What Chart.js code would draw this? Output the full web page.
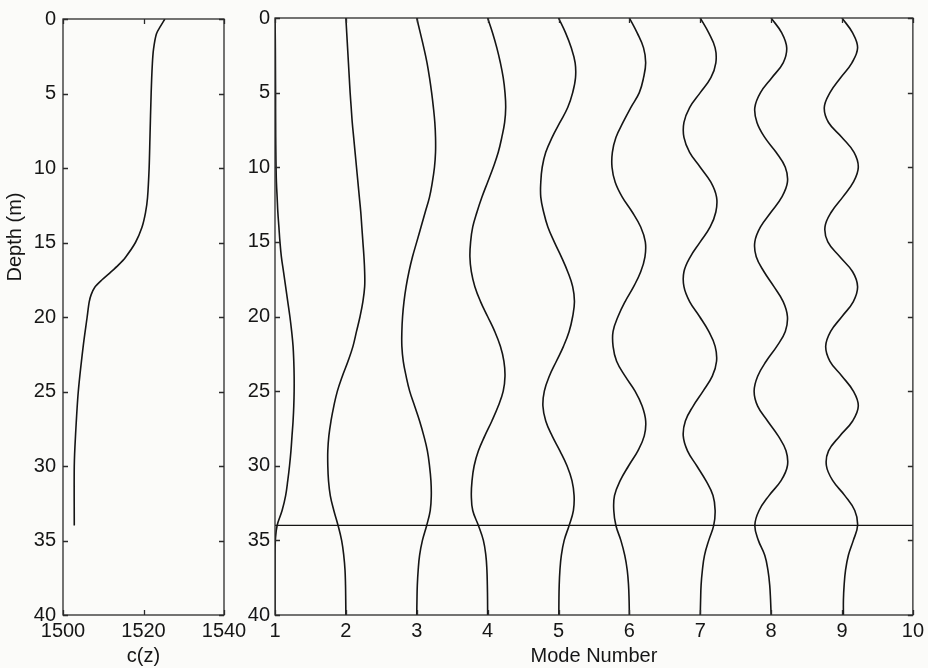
<!DOCTYPE html>
<html>
<head>
<meta charset="utf-8">
<script src="https://cdn.jsdelivr.net/npm/chart.js@4"></script>
<style>
  html, body { margin: 0; padding: 0; background: #fbfbf9; }
  #wrap { position: relative; width: 928px; height: 668px; }
  #left { position: absolute; left: 0; top: 0; }
  #right { position: absolute; left: 240px; top: 0; }
</style>
</head>
<body>
<div id="wrap">
  <canvas id="left" width="260" height="668"></canvas>
  <canvas id="right" width="688" height="668"></canvas>
</div>
<script>
// sound speed profile c(z)
const profileDepth = [0, 0.5, 1, 2, 3, 5, 8, 10, 12, 13, 14, 15, 16, 16.5, 17, 17.5, 18, 18.5, 19, 20, 22, 25, 28, 30, 34];
const profileSpeed = [1525.3, 1524.2, 1523.2, 1522.5, 1522.2, 1521.9, 1521.6, 1521.4, 1521.0, 1520.5, 1519.6, 1518.0, 1515.5, 1513.8, 1511.8, 1509.7, 1507.9, 1507.0, 1506.5, 1506.0, 1505.0, 1503.8, 1503.1, 1502.8, 1502.8];

// depth grid for the mode shapes (m)
const modeDepth = [0, 1, 2, 3, 4, 5, 6, 7, 8, 9, 10, 11, 12, 13, 14, 15, 16, 17, 18, 19, 20,
                   21, 22, 23, 24, 25, 26, 27, 28, 29, 30, 31, 32, 33, 34, 35, 36, 37, 38, 39, 40];

const modeNumbers = [1, 2, 3, 4, 5, 6, 7, 8, 9];

// mode amplitudes (offset from mode number)
const mode1 = [0, 0.003, 0.005, 0.006, 0.007, 0.008, 0.008, 0.009, 0.01, 0.012, 0.015, 0.02, 0.03, 0.04, 0.055, 0.07, 0.09, 0.12, 0.15, 0.18, 0.21,
               0.235, 0.255, 0.265, 0.27, 0.27, 0.265, 0.255, 0.24, 0.225, 0.205, 0.18, 0.15, 0.1, 0.03, 0.005, 0, 0, 0, 0, 0];
const mode2 = [0, 0.012, 0.024, 0.036, 0.048, 0.06, 0.075, 0.09, 0.11, 0.13, 0.15, 0.17, 0.19, 0.21, 0.225, 0.24, 0.255, 0.265, 0.265, 0.24, 0.2,
               0.15, 0.1, 0.03, -0.05, -0.12, -0.17, -0.21, -0.24, -0.255, -0.255, -0.245, -0.22, -0.17, -0.11, -0.06, -0.03, -0.012, -0.005, -0.002, 0];
const mode3 = [0, 0.05, 0.1, 0.145, 0.18, 0.21, 0.235, 0.255, 0.265, 0.265, 0.25, 0.22, 0.18, 0.12, 0.06, 0.0, -0.06, -0.11, -0.15, -0.18, -0.2,
               -0.21, -0.21, -0.19, -0.15, -0.1, -0.03, 0.04, 0.1, 0.15, 0.18, 0.2, 0.205, 0.19, 0.14, 0.08, 0.04, 0.02, 0.008, 0.003, 0];
const mode4 = [0, 0.07, 0.13, 0.18, 0.22, 0.245, 0.255, 0.24, 0.2, 0.15, 0.08, 0.0, -0.08, -0.15, -0.21, -0.24, -0.25, -0.23, -0.18, -0.1, 0.0,
               0.1, 0.18, 0.23, 0.245, 0.22, 0.15, 0.06, -0.04, -0.13, -0.19, -0.22, -0.23, -0.21, -0.13, -0.06, -0.025, -0.01, -0.004, -0.001, 0];
const mode5 = [0, 0.1, 0.18, 0.235, 0.24, 0.2, 0.13, 0.02, -0.09, -0.18, -0.23, -0.25, -0.25, -0.21, -0.15, -0.06, 0.04, 0.13, 0.2, 0.225, 0.2,
               0.15, 0.07, -0.03, -0.13, -0.2, -0.22, -0.18, -0.09, 0.02, 0.12, 0.19, 0.22, 0.21, 0.15, 0.08, 0.04, 0.02, 0.01, 0.006, 0.005];
const mode6 = [0, 0.11, 0.2, 0.23, 0.2, 0.14, 0.02, -0.09, -0.19, -0.24, -0.245, -0.2, -0.1, 0.04, 0.16, 0.225, 0.22, 0.16, 0.06, -0.06, -0.16,
               -0.23, -0.23, -0.18, -0.06, 0.08, 0.18, 0.23, 0.21, 0.12, -0.01, -0.13, -0.21, -0.22, -0.19, -0.12, -0.065, -0.03, -0.012, -0.004, 0];
const mode7 = [0, 0.12, 0.21, 0.22, 0.15, 0.0, -0.15, -0.23, -0.23, -0.15, 0.0, 0.15, 0.23, 0.22, 0.14, 0.0, -0.14, -0.23, -0.23, -0.15, -0.01,
               0.12, 0.21, 0.23, 0.17, 0.04, -0.1, -0.21, -0.24, -0.18, -0.05, 0.08, 0.18, 0.21, 0.19, 0.12, 0.06, 0.03, 0.012, 0.005, 0];
const mode8 = [0, 0.15, 0.22, 0.17, 0.01, -0.15, -0.23, -0.2, -0.09, 0.07, 0.2, 0.23, 0.15, 0.0, -0.15, -0.23, -0.21, -0.1, 0.04, 0.17, 0.23,
               0.2, 0.08, -0.07, -0.19, -0.24, -0.19, -0.05, 0.1, 0.21, 0.23, 0.14, -0.03, -0.17, -0.23, -0.18, -0.09, -0.045, -0.02, -0.008, 0];
const mode9 = [0, 0.15, 0.22, 0.14, -0.02, -0.17, -0.25, -0.19, 0.0, 0.17, 0.23, 0.16, 0.01, -0.15, -0.24, -0.2, -0.03, 0.15, 0.22, 0.16, 0.0,
               -0.16, -0.23, -0.17, 0.0, 0.16, 0.23, 0.15, -0.03, -0.19, -0.22, -0.13, 0.04, 0.18, 0.22, 0.16, 0.09, 0.05, 0.03, 0.02, 0.02];

const modeShapes = [mode1, mode2, mode3, mode4, mode5, mode6, mode7, mode8, mode9];

// bottom interface depth
const interfaceDepth = 34;

const lineColor = '#151515';
const axisColor = '#2a2a2a';
const textColor = '#161616';
const fontSize = 20;

Chart.defaults.font.family = '"Liberation Sans", Arial, Helvetica, sans-serif';
Chart.defaults.font.size = fontSize;
Chart.defaults.color = textColor;

/**
 * MATLAB style box with inward tick marks on every side
 */
const boxTicks = {
    id: 'boxTicks',
    afterDraw(chart) {
        const { ctx, chartArea: a, scales } = chart;
        const len = 5;
        ctx.save();
        ctx.strokeStyle = axisColor;
        ctx.lineWidth = 1.3;
        ctx.strokeRect(a.left, a.top, a.right - a.left, a.bottom - a.top);
        ctx.beginPath();
        scales.x.ticks.forEach(t => {
            const px = Math.round(scales.x.getPixelForValue(t.value)) + 0.5;
            ctx.moveTo(px, a.bottom); ctx.lineTo(px, a.bottom - len);
            ctx.moveTo(px, a.top); ctx.lineTo(px, a.top + len);
        });
        scales.y.ticks.forEach(t => {
            const py = Math.round(scales.y.getPixelForValue(t.value)) + 0.5;
            ctx.moveTo(a.left, py); ctx.lineTo(a.left + len, py);
            ctx.moveTo(a.right, py); ctx.lineTo(a.right - len, py);
        });
        ctx.stroke();
        ctx.restore();
    }
};

// y axis label of the left panel sits above the centre of the axis
const depthLabel = {
    id: 'depthLabel',
    afterDraw(chart) {
        const ctx = chart.ctx;
        ctx.save();
        ctx.translate(15, 237);
        ctx.rotate(-Math.PI / 2);
        ctx.font = fontSize + 'px "Liberation Sans", Arial, sans-serif';
        ctx.fillStyle = textColor;
        ctx.textAlign = 'center';
        ctx.textBaseline = 'middle';
        ctx.fillText('Depth (m)', 0, 0);
        ctx.restore();
    }
};

const plainTick = v => String(v);

function depthAxis(width, pad) {
    return {
        type: 'linear',
        reverse: true,
        min: 0,
        max: 40,
        ticks: { stepSize: 5, padding: pad, callback: plainTick },
        grid: { display: false, drawTicks: false },
        border: { display: false },
        afterFit(scale) { scale.width = width; }
    };
}

// left panel: c(z)
new Chart(document.getElementById('left'), {
    type: 'scatter',
    data: {
        datasets: [{
            data: profileDepth.map((d, i) => ({ x: profileSpeed[i], y: d })),
            showLine: true,
            borderColor: lineColor,
            borderWidth: 1.6,
            pointRadius: 0,
            tension: 0.3
        }]
    },
    options: {
        responsive: false,
        animation: false,
        layout: { padding: { left: 0, right: 36, top: 18, bottom: 0 } },
        plugins: { legend: { display: false }, tooltip: { enabled: false } },
        scales: {
            x: {
                type: 'linear',
                min: 1500,
                max: 1540,
                ticks: { stepSize: 20, padding: 4, callback: plainTick },
                grid: { display: false, drawTicks: false },
                border: { display: false },
                title: { display: true, text: 'c(z)', padding: { top: 0, bottom: 0 } },
                afterFit(scale) { scale.height = 53; }
            },
            y: depthAxis(63, 7)
        }
    },
    plugins: [boxTicks, depthLabel]
});

// right panel: mode shapes
const modeSets = modeShapes.map((shape, k) => ({
    data: modeDepth.map((d, i) => ({ x: modeNumbers[k] + shape[i], y: d })),
    showLine: true,
    borderColor: lineColor,
    borderWidth: 1.6,
    pointRadius: 0,
    tension: 0.4
}));

modeSets.push({
    data: [{ x: 1, y: interfaceDepth }, { x: 10, y: interfaceDepth }],
    showLine: true,
    borderColor: lineColor,
    borderWidth: 1.3,
    pointRadius: 0
});

new Chart(document.getElementById('right'), {
    type: 'scatter',
    data: { datasets: modeSets },
    options: {
        responsive: false,
        animation: false,
        layout: { padding: { left: 0, right: 13, top: 18, bottom: 0 } },
        plugins: { legend: { display: false }, tooltip: { enabled: false } },
        scales: {
            x: {
                type: 'linear',
                min: 1,
                max: 10,
                ticks: { stepSize: 1, padding: 4, callback: plainTick },
                grid: { display: false, drawTicks: false },
                border: { display: false },
                title: { display: true, text: 'Mode Number', padding: { top: 0, bottom: 0 } },
                afterFit(scale) { scale.height = 53; }
            },
            y: depthAxis(35, 5)
        }
    },
    plugins: [boxTicks]
});
</script>
</body>
</html>
